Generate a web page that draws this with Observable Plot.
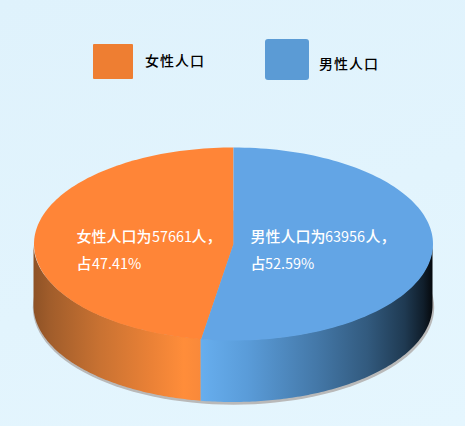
<!DOCTYPE html>
<html>
<head>
<meta charset="utf-8">
<script src="https://cdn.jsdelivr.net/npm/d3@7"></script>
<script src="https://cdn.jsdelivr.net/npm/@observablehq/plot@0.6"></script>
<style>
@font-face { font-family: "LatinNarrow"; src: local("Noto Sans CJK SC"); unicode-range: U+20-7F; size-adjust: 96%; }
html, body { margin: 0; padding: 0; width: 465px; height: 426px; overflow: hidden;
  background: linear-gradient(160deg, #dff2fc 0%, #e2f4fd 55%, #e5f6fe 100%); }
#legend { position: relative; width: 465px; height: 100px; font-family: "Noto Sans CJK SC", sans-serif; color: #000; font-size: 14px; letter-spacing: 1px; font-weight: 500; }
#legend div { position: absolute; }
#chart svg { display: block; }
</style>
</head>
<body>
<div id="legend"></div>
<div id="chart"></div>
<script>
const categories = ["女性人口", "男性人口"];
const populations = [57661, 63956];
const percents = ["47.41", "52.59"];
const topColors = ["#ff8537", "#63a5e5"];
const legendColors = ["#ee7e32", "#5b9bd5"];

// Legend, HTML above the plot
const legendBoxes = [
  {left: 93, top: 44, w: 40, h: 35, r: 1, tx: 145, ty: 60},
  {left: 265, top: 39, w: 44, h: 41, r: 3, tx: 319, ty: 63}
];
const legend = document.getElementById("legend");
categories.forEach((c, i) => {
  const b = legendBoxes[i];
  const s = document.createElement("div");
  s.style.cssText = `left:${b.left}px;top:${b.top}px;width:${b.w}px;height:${b.h}px;border-radius:${b.r}px;background:${legendColors[i]}`;
  legend.appendChild(s);
  const t = document.createElement("div");
  t.textContent = c;
  t.style.cssText = `left:${b.tx}px;top:${b.ty - 10}px;line-height:20px;white-space:nowrap`;
  legend.appendChild(t);
});

// Pie geometry in unit-radius space
const W = 465, H = 326, radiusPx = 199.5, cxPx = 233, cyPx = 143.5;
const tilt = 96.5 / radiusPx, depth = 62 / radiusPx;
const total = d3.sum(populations);
const maleEnd = (populations[1] / total) * 2 * Math.PI;
const TAU = 2 * Math.PI;
const at = (a, r = 1, off = 0) => ({x: r * Math.sin(a), y: -r * Math.cos(a) * tilt + off});
const arc = (a0, a1) => d3.range(0, 121).map(i => a0 + (a1 - a0) * i / 120);

const maleTop = [{x: 0, y: 0}, ...arc(0, maleEnd).map(a => at(a))];
const femaleTop = [{x: 0, y: 0}, ...arc(maleEnd, TAU).map(a => at(a))];
const wall = (a0, a1) => arc(a0, a1).map(a => ({x: Math.sin(a), y1: -Math.cos(a) * tilt, y2: -Math.cos(a) * tilt + depth}));
const maleWall = wall(Math.PI / 2, maleEnd);
const femaleWall = wall(maleEnd, 1.5 * Math.PI);
const shadow = arc(0, TAU).map(a => at(a, 1.006, depth + 0.008));

const labels = [
  {i: 0, mid: (maleEnd + TAU) / 2},
  {i: 1, mid: maleEnd / 2}
].map(d => ({
  x: 0.4375 * Math.sin(d.mid),
  y: 0,
  text: `${categories[d.i]}为${populations[d.i]}人，\n占${percents[d.i]}%`
}));

function gradient(id, stops) {
  const g = d3.create("svg:linearGradient").attr("id", id).attr("x1", 0).attr("x2", 1).attr("y1", 0).attr("y2", 0);
  stops.forEach(([o, c]) => g.append("stop").attr("offset", o).attr("stop-color", c));
  return g.node();
}
const defs = () => {
  const d = d3.create("svg:defs");
  d.node().appendChild(gradient("sideF", [[0, "#8e5226"], [0.1, "#a15d2b"], [0.4, "#c97232"], [0.7, "#ea8136"], [0.9, "#ff8d3a"], [1, "#f9893a"]]));
  d.node().appendChild(gradient("sideM", [[0, "#67aeee"], [0.2, "#5a9cd9"], [0.5, "#4478a8"], [0.72, "#325a7e"], [0.88, "#1f3a52"], [0.96, "#101e2b"], [1, "#06090d"]]));
  return d.node();
};

const chart = Plot.plot({
  width: W, height: H, margin: 0,
  style: {background: "transparent", fontFamily: '"LatinNarrow", "Noto Sans CJK SC", sans-serif'},
  x: {axis: null, domain: [-cxPx / radiusPx, (W - cxPx) / radiusPx], range: [0, W]},
  y: {axis: null, domain: [-cyPx / radiusPx, (H - cyPx) / radiusPx], range: [0, H]},
  marks: [
    defs,
    Plot.line(shadow, {x: "x", y: "y", fill: "#b9b9b9", stroke: "none"}),
    Plot.area(femaleWall, {x1: "x", y1: "y1", y2: "y2", fill: "url(#sideF)"}),
    Plot.area(maleWall, {x1: "x", y1: "y1", y2: "y2", fill: "url(#sideM)"}),
    Plot.line(femaleTop, {x: "x", y: "y", fill: topColors[0], stroke: "none"}),
    Plot.line(maleTop, {x: "x", y: "y", fill: topColors[1], stroke: "none"}),
    Plot.text(labels, {x: "x", y: "y", text: "text", dx: -70, dy: 3, textAnchor: "start", lineAnchor: "middle", lineHeight: 1.75, fontSize: 15, fill: "#fff", fontWeight: 500})
  ]
});
document.getElementById("chart").appendChild(chart);
</script>
</body>
</html>
